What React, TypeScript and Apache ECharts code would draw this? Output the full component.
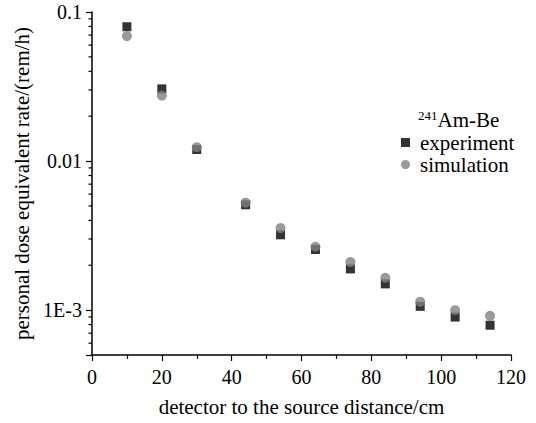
import React, { useEffect, useRef } from "react";
import * as echarts from "echarts";

const xValues = [10, 20, 30, 44, 54, 64, 74, 84, 94, 104, 114];
const experiment = [0.0796, 0.0305, 0.01195, 0.00509, 0.0032, 0.00255, 0.00189, 0.0015, 0.00106, 0.000898, 0.000792];
const simulation = [0.0689, 0.0275, 0.0124, 0.00526, 0.00355, 0.00266, 0.0021, 0.00165, 0.00114, 0.001, 0.000916];
const yMajorLabels: [number, string][] = [
  [0.1, "0.1"],
  [0.01, "0.01"],
  [0.001, "1E-3"],
];
const yMinorTicks = [
  0.09, 0.08, 0.07, 0.06, 0.05, 0.04, 0.03, 0.02,
  0.009, 0.008, 0.007, 0.006, 0.005, 0.004, 0.003, 0.002,
  0.0009, 0.0008, 0.0007, 0.0006,
];
const xTitle = "detector to the source distance/cm";
const yTitle = "personal dose equivalent rate/(rem/h)";
const seriesNames = ["experiment", "simulation"];

const FONT = "'Liberation Serif', 'Times New Roman', serif";

export default function App() {
  const ref = useRef<HTMLDivElement>(null);
  useEffect(() => {
    if (!ref.current) return;
    const chart = echarts.init(ref.current, undefined, { renderer: "svg" });
    const fmtY = (v: number) => {
      for (const [val, lab] of yMajorLabels) {
        if (Math.abs(v - val) / val < 1e-6) return lab;
      }
      return "";
    };
    chart.setOption({
      animation: false,
      backgroundColor: "#fff",
      textStyle: { fontFamily: FONT },
      grid: { left: 92, right: 25, top: 12, bottom: 68 },
      xAxis: {
        type: "value",
        min: 0,
        max: 120,
        interval: 20,
        name: xTitle,
        nameLocation: "middle",
        nameGap: 41,
        nameTextStyle: { fontFamily: FONT, fontSize: 21, color: "#000" },
        axisLine: { show: true, lineStyle: { color: "#000", width: 1.5 } },
        axisTick: { show: true, inside: false, length: 6, lineStyle: { color: "#000", width: 1.2 } },
        minorTick: { show: true, splitNumber: 2, length: 4, lineStyle: { color: "#000", width: 1.2 } },
        axisLabel: { fontFamily: FONT, fontSize: 20, color: "#000", margin: 12 },
        splitLine: { show: false },
      },
      yAxis: {
        type: "log",
        logBase: 10,
        min: 0.0005,
        max: 0.1,
        name: yTitle,
        nameLocation: "middle",
        nameGap: 58,
        nameTextStyle: { fontFamily: FONT, fontSize: 21, color: "#000" },
        axisLine: { show: true, lineStyle: { color: "#000", width: 1.5 } },
        axisTick: { show: true, inside: false, length: 6, lineStyle: { color: "#000", width: 1.2 } },
        axisLabel: { fontFamily: FONT, fontSize: 20, color: "#000", margin: 10, formatter: fmtY },
        splitLine: { show: false },
      },
      legend: {
        orient: "vertical",
        left: 396,
        top: 127,
        itemWidth: 9,
        itemHeight: 9,
        itemGap: 1,
        data: [
          { name: seriesNames[0], icon: "rect" },
          { name: seriesNames[1], icon: "circle" },
        ],
        textStyle: { fontFamily: FONT, fontSize: 21, color: "#000", padding: [0, 0, 0, 5], lineHeight: 20 },
      },
      graphic: [
        {
          type: "text",
          left: 418,
          top: 109,
          style: {
            text: "{s|241}{m|Am-Be}",
            rich: {
              s: { fontFamily: FONT, fontSize: 13, fill: "#000", verticalAlign: "top", lineHeight: 13 },
              m: { fontFamily: FONT, fontSize: 21, fill: "#000", lineHeight: 22 },
            },
          },
        },
      ],
      series: [
        {
          name: seriesNames[0],
          type: "scatter",
          symbol: "rect",
          symbolSize: 9,
          itemStyle: { color: "#000" },
          data: xValues.map((x, i) => [x, experiment[i]]),
          z: 3,
        },
        {
          name: seriesNames[1],
          type: "scatter",
          symbol: "circle",
          symbolSize: 10,
          itemStyle: { color: "#808080" },
          data: xValues.map((x, i) => [x, simulation[i]]),
          z: 4,
        },
        {
          name: "yMinorTicks",
          type: "custom",
          silent: true,
          clip: false,
          data: yMinorTicks.map((v) => [0, v]),
          encode: { x: 0, y: 1 },
          renderItem: (params: any, api: any) => {
            const p = api.coord([0, api.value(1)]);
            return {
              type: "line",
              shape: { x1: p[0] - 3.5, y1: p[1], x2: p[0], y2: p[1] },
              style: { stroke: "#000", lineWidth: 1.2 },
            };
          },
          z: 5,
        },
      ],
    });
    return () => chart.dispose();
  }, []);
  return (
    <div
      ref={ref}
      style={{ position: "fixed", left: 0, top: 0, width: 536, height: 423 }}
    />
  );
}
